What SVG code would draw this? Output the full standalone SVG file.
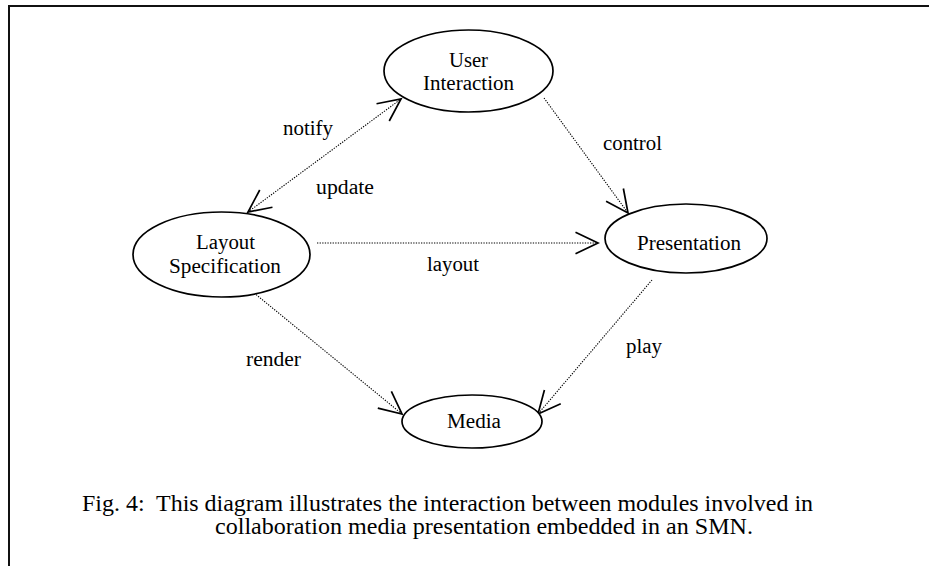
<svg xmlns="http://www.w3.org/2000/svg" width="929" height="566" viewBox="0 0 929 566">
<style>
  .node { fill: #fff; stroke: #000; stroke-width: 1.7; }
  .lbl { font-family: "Liberation Serif", "Times New Roman", "DejaVu Serif", serif; font-size: 20px; fill: #000; }
  .cap { font-family: "Liberation Serif", "Times New Roman", "DejaVu Serif", serif; font-size: 22.5px; fill: #000; }
  .edge { fill: none; stroke: #000; stroke-width: 1.1; stroke-dasharray: 1.3 1.3; }
</style>
<defs>
  <marker id="vee" markerUnits="userSpaceOnUse" markerWidth="30" markerHeight="30" viewBox="-24 -13 28 26" refX="0" refY="0" orient="auto-start-reverse">
    <path d="M -21 -10 L 0 0 L -21 10" fill="none" stroke="#000" stroke-width="1.6"/>
  </marker>
</defs>
<rect x="9" y="6" width="940" height="580" fill="#fff" stroke="#111" stroke-width="2"/>
<g id="connectors">
  <line class="edge" x1="248" y1="212" x2="401" y2="99" marker-start="url(#vee)" marker-end="url(#vee)"/>
  <line class="edge" x1="544" y1="98" x2="628" y2="213" marker-end="url(#vee)"/>
  <line class="edge" x1="317" y1="243" x2="598" y2="243" marker-end="url(#vee)"/>
  <line class="edge" x1="248" y1="288" x2="402" y2="414" marker-end="url(#vee)"/>
  <line class="edge" x1="652" y1="280" x2="538" y2="414" marker-end="url(#vee)"/>
  <text class="lbl" x="283" y="135" textLength="50" lengthAdjust="spacingAndGlyphs">notify</text>
  <text class="lbl" x="316" y="194" textLength="58" lengthAdjust="spacingAndGlyphs">update</text>
  <text class="lbl" x="603" y="150" textLength="59" lengthAdjust="spacingAndGlyphs">control</text>
  <text class="lbl" x="427" y="271" textLength="52" lengthAdjust="spacingAndGlyphs">layout</text>
  <text class="lbl" x="246" y="366" textLength="55" lengthAdjust="spacingAndGlyphs">render</text>
  <text class="lbl" x="626" y="353" textLength="36" lengthAdjust="spacingAndGlyphs">play</text>
</g>
<g id="user-interaction">
  <ellipse class="node" cx="468.5" cy="71" rx="84.5" ry="41"/>
  <text class="lbl" x="449" y="67" textLength="39" lengthAdjust="spacingAndGlyphs">User</text>
  <text class="lbl" x="423" y="90" textLength="91" lengthAdjust="spacingAndGlyphs">Interaction</text>
</g>
<g id="layout-specification">
  <ellipse class="node" cx="221.5" cy="254.5" rx="88.5" ry="42.5"/>
  <text class="lbl" x="196" y="249" textLength="59" lengthAdjust="spacingAndGlyphs">Layout</text>
  <text class="lbl" x="169" y="273" textLength="112" lengthAdjust="spacingAndGlyphs">Specification</text>
</g>
<g id="presentation">
  <ellipse class="node" cx="686" cy="238.5" rx="81" ry="34.5"/>
  <text class="lbl" x="637" y="250" textLength="104" lengthAdjust="spacingAndGlyphs">Presentation</text>
</g>
<g id="media">
  <ellipse class="node" cx="472" cy="421.5" rx="70" ry="26.5"/>
  <text class="lbl" x="447" y="428" textLength="54" lengthAdjust="spacingAndGlyphs">Media</text>
</g>
<g id="caption">
  <text class="cap" x="82" y="511" xml:space="preserve" textLength="731" lengthAdjust="spacingAndGlyphs">Fig. 4:  This diagram illustrates the interaction between modules involved in</text>
  <text class="cap" x="215" y="534" textLength="538" lengthAdjust="spacingAndGlyphs">collaboration media presentation embedded in an SMN.</text>
</g>
</svg>
